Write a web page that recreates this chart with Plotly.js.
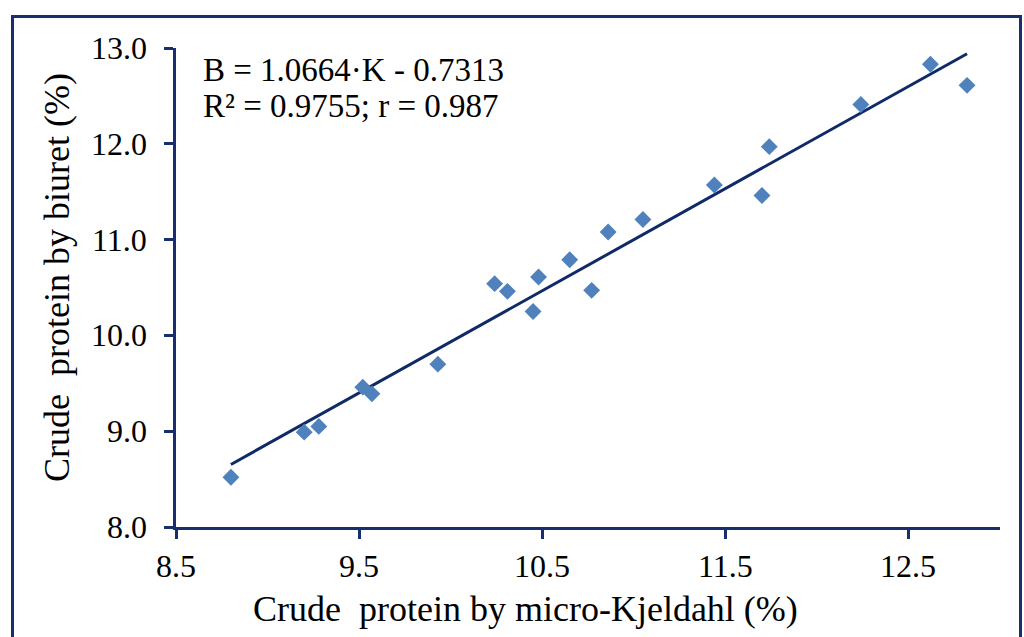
<!DOCTYPE html>
<html>
<head>
<meta charset="utf-8">
<script src="https://cdn.plot.ly/plotly-3.0.1.min.js"></script>
<style>
  html, body { margin: 0; padding: 0; background: #ffffff; }
  #wrap { position: relative; width: 1024px; height: 637px; overflow: hidden; }
  #chart { position: absolute; left: 0; top: 0; width: 1024px; height: 637px; }
  #frame { position: absolute; left: 11px; top: 15px; width: 1005px; height: 700px;
           border: 3px solid #17306b; pointer-events: none; }
</style>
</head>
<body>
<div id="wrap">
  <div id="chart"></div>
  <div id="frame"></div>
</div>
<script>
// Data
const kjeldahl = [8.80, 9.20, 9.28, 9.52, 9.57, 9.93, 10.24, 10.31, 10.45, 10.48,
                  10.65, 10.77, 10.86, 11.05, 11.44, 11.70, 11.74, 12.24, 12.62, 12.82];
const biuret   = [8.52, 8.99, 9.05, 9.46, 9.39, 9.70, 10.54, 10.46, 10.25, 10.61,
                  10.79, 10.47, 11.08, 11.21, 11.57, 11.46, 11.97, 12.41, 12.83, 12.61];

// Regression shown on the chart
const slope = 1.0664;
const intercept = -0.7313;
const equationText = "B = 1.0664·K - 0.7313";
const r2Text = "R² = 0.9755; r = 0.987";

const xTicks = [8.5, 9.5, 10.5, 11.5, 12.5];
const xTickLabels = ["8.5", "9.5", "10.5", "11.5", "12.5"];
const yTicks = [8, 9, 10, 11, 12, 13];
const yTickLabels = ["8.0", "9.0", "10.0", "11.0", "12.0", "13.0"];

const xTitle = "Crude\u00a0 protein by micro-Kjeldahl (%)";
const yTitle = "Crude\u00a0 protein by biuret (%)";

const xMin = Math.min(...kjeldahl);
const xMax = Math.max(...kjeldahl);
const trendX = [xMin, xMax];
const trendY = trendX.map(v => slope * v + intercept);

const axisColor = "#17306b";
const serif = "Liberation Serif";

const traces = [
  {
    x: trendX, y: trendY, type: "scatter", mode: "lines",
    line: { color: "#0f2a66", width: 3 },
    hoverinfo: "skip", showlegend: false
  },
  {
    x: kjeldahl, y: biuret, type: "scatter", mode: "markers",
    marker: { symbol: "diamond", size: 13, color: "#4f81bd", line: { width: 0 } },
    showlegend: false
  }
];

// Tick labels drawn as annotations at the axis tick values (serif font)
const tickAnnotations = [];
xTicks.forEach((v, i) => tickAnnotations.push({
  xref: "x", yref: "paper", x: v, y: -0.0815, xanchor: "center", yanchor: "middle",
  showarrow: false, text: xTickLabels[i],
  font: { family: serif, size: 32, color: "#000000" }
}));
yTicks.forEach((v, i) => tickAnnotations.push({
  xref: "paper", yref: "y", x: -0.033, y: v, xanchor: "right", yanchor: "middle",
  showarrow: false, text: yTickLabels[i],
  font: { family: serif, size: 32, color: "#000000" }
}));

const layout = {
  width: 1024, height: 637,
  margin: { l: 176, r: 24, t: 48, b: 110 },
  paper_bgcolor: "#ffffff", plot_bgcolor: "#ffffff",
  showlegend: false,
  font: { family: serif, color: "#000000", size: 32 },
  xaxis: {
    range: [8.5, 13.0], tickvals: xTicks, ticktext: xTickLabels, showticklabels: false,
    showgrid: false, zeroline: false,
    showline: true, linecolor: axisColor, linewidth: 3,
    ticks: "outside", ticklen: 9, tickwidth: 3, tickcolor: axisColor
  },
  yaxis: {
    range: [8.0, 13.0], tickvals: yTicks, ticktext: yTickLabels, showticklabels: false,
    showgrid: false, zeroline: false,
    showline: true, linecolor: axisColor, linewidth: 3,
    ticks: "outside", ticklen: 9, tickwidth: 3, tickcolor: axisColor
  },
  annotations: tickAnnotations.concat([
    {
      xref: "paper", yref: "paper", x: 0.03, y: 0.955, xanchor: "left", yanchor: "middle",
      align: "left", showarrow: false, text: equationText,
      font: { family: serif, size: 33, color: "#000000" }
    },
    {
      xref: "paper", yref: "paper", x: 0.03, y: 0.879, xanchor: "left", yanchor: "middle",
      align: "left", showarrow: false, text: r2Text,
      font: { family: serif, size: 33, color: "#000000" }
    },
    {
      xref: "paper", yref: "paper", x: 0.4236, y: -0.171, xanchor: "center", yanchor: "middle",
      showarrow: false, text: xTitle,
      font: { family: serif, size: 36, color: "#000000" }
    },
    {
      xref: "paper", yref: "paper", x: -0.1444, y: 0.52, xanchor: "center", yanchor: "middle",
      showarrow: false, text: yTitle, textangle: -90,
      font: { family: serif, size: 36, color: "#000000" }
    }
  ])
};

Plotly.newPlot("chart", traces, layout, { displayModeBar: false, staticPlot: true });
</script>
</body>
</html>
